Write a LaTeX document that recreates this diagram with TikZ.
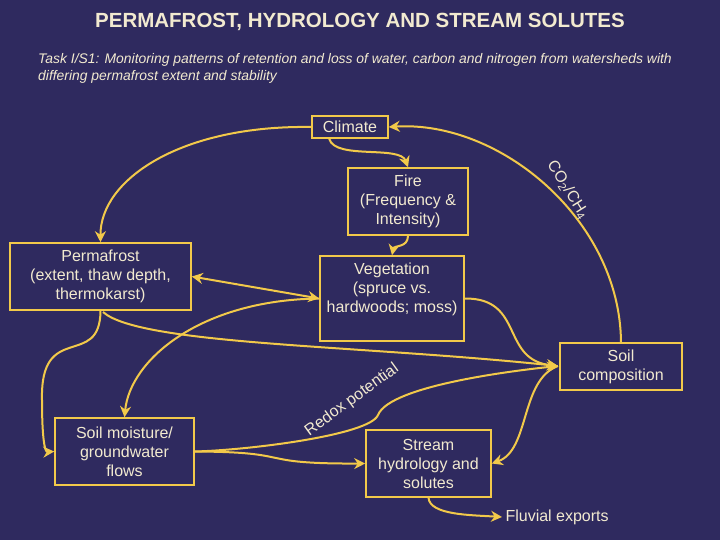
\documentclass[tikz,border=0pt]{standalone}
\usepackage{fontspec}
\setmainfont{Liberation Sans}
\usetikzlibrary{arrows.meta}
\definecolor{bg}{HTML}{2F2A5F}
\definecolor{ylw}{HTML}{F2C94A}
\definecolor{txt}{HTML}{F2EAD0}
\begin{document}
\begin{tikzpicture}[x=1pt,y=-1pt,
 box/.style={draw=ylw,line width=1.6pt,text=txt,align=center,inner sep=0pt,font=\fontsize{16}{19}\selectfont},
 con/.style={draw=ylw,line width=2pt,-{Stealth[length=11pt,width=11pt]}},
 lab/.style={text=txt,font=\fontsize{16}{18}\selectfont}]
\fill[bg] (0,0) rectangle (720,540);
\useasboundingbox (0,0) rectangle (720,540);
\node[text=txt,font=\bfseries\fontsize{20.5}{22}\selectfont] (title) at (360,22) {PERMAFROST, HYDROLOGY AND STREAM SOLUTES};
\node[text=txt,anchor=north west,align=left,font=\itshape\fontsize{13.9}{17}\selectfont,inner sep=0pt] (sub) at (38,53) {Task I/S1: Monitoring patterns of retention and loss of water, carbon and nitrogen from watersheds with\\differing permafrost extent and stability};
\node[box,minimum width=76pt,minimum height=22pt] (clim) at (350,127) {Climate};
\node[box,minimum width=120pt,minimum height=67pt] (fire) at (408,201.5) {Fire\\(Frequency \&\\Intensity)};
\node[box,minimum width=181pt,minimum height=67pt] (perm) at (100.5,276.5) {Permafrost\\(extent, thaw depth,\\thermokarst)};
\node[box,minimum width=144pt,minimum height=85pt] (veg) at (392,298.5) {};
\node[text=txt,align=center,inner sep=0pt,font=\fontsize{16}{19}\selectfont] (vegt) at (392,289) {Vegetation\\(spruce vs.\\hardwoods; moss)};
\node[box,minimum width=122pt,minimum height=47pt] (scomp) at (621,366.5) {Soil\\composition};
\node[box,minimum width=139pt,minimum height=67pt] (smoist) at (124.5,451.5) {Soil moisture/\\groundwater\\flows};
\node[box,minimum width=125pt,minimum height=67pt] (stream) at (428.5,463.5) {Stream\\hydrology and\\solutes};
\node[lab,anchor=west] (fluv) at (502,517) {Fluvial exports};
\coordinate (sc) at (558,366);
% connectors
\draw[con] (clim.west) .. controls (180,125) and (100,180) .. (perm.north);
\draw[con] (clim.south west) ++(18,0) .. controls (335,160) and (400,145) .. (fire.north);
\draw[con] (fire.south) .. controls (408,248) and (394,245) .. (veg.north);
\draw[draw=ylw,line width=2pt,{Stealth[length=11pt,width=11pt]}-{Stealth[length=11pt,width=11pt]}] (perm.east) -- (veg.west);
\draw[con] (veg.west) .. controls (200,300) and (130,360) .. (smoist.north);
\draw[con] (perm.south) .. controls (100,370) and (40,320) .. (42,400) .. controls (42,440) and (45,452) .. (smoist.west);
\draw[con] (103,312) .. controls (140,345) and (360,345) .. (sc);
\draw[con] (veg.east) .. controls (525,298) and (500,360) .. (sc);
\draw[con] (scomp.north) .. controls (620,220) and (500,120) .. (clim.east);
\node[lab,rotate=-58] (co2) at (568,190) {CO\textsubscript{2}/CH\textsubscript{4}};
\draw[con] (smoist.east) .. controls (250,450) and (370,435) .. (378,415) .. controls (390,385) and (520,370) .. (sc);
\node[lab,rotate=36] (redox) at (352,400) {Redox potential};
\draw[con] (smoist.east) .. controls (300,452) and (250,464) .. (stream.west);
\draw[con] (sc) .. controls (520,380) and (530,450) .. (stream.east);
\draw[con] (stream.south) .. controls (430,515) and (470,515) .. (fluv.west);
\end{tikzpicture}
\end{document}
